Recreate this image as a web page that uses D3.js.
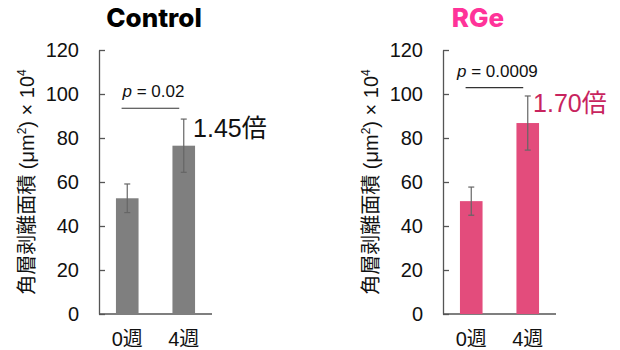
<!DOCTYPE html>
<html>
<head>
<meta charset="utf-8">
<script src="https://cdn.jsdelivr.net/npm/d3@7"></script>
<style>
  html, body { margin: 0; padding: 0; background: #fff; }
  svg { display: block; }
  text { font-family: "Liberation Sans", Arial, "Noto Sans CJK JP", sans-serif; }
</style>
</head>
<body>
<svg id="chart" width="620" height="350"></svg>
<script>
// ---- data ----
const categories = ["0週", "4週"];
const panels = ["Control", "RGe"];
const controlValues = [52.6, 76.5];
const controlErrors = [6.5, 12.1];
const rgeValues = [51.3, 86.8];
const rgeErrors = [6.4, 12.3];
const pLabels = ["0.02", "0.0009"];
const pLineLevels = [93.5, 102.9];
const foldLabels = ["1.45倍", "1.70倍"];
const foldLevels = [80.5, 91.8];
const yTicks = [0, 20, 40, 60, 80, 100, 120];

// ---- styles ----
const barColors = ["#7f7f7f", "#e34c7c"];
const titleColors = ["#000000", "#ff3399"];
const foldColors = ["#111111", "#c8245e"];
const axisColor = "#555";

const svg = d3.select("#chart");
const y = d3.scaleLinear().domain([0, 120]).range([314, 50]);
const axisX = [99, 443];
const titleX = [154, 478];
const foldDx = [-2, -6];
const plotW = 113;

const seriesVals = [controlValues, rgeValues];
const seriesErr = [controlErrors, rgeErrors];

panels.forEach((name, i) => {
  const g = svg.append("g").attr("transform", `translate(${axisX[i]},0)`);
  const x = d3.scaleBand().domain(categories).range([0, plotW])
    .paddingInner(0.6).paddingOuter(0.3);

  // title
  svg.append("text")
    .attr("x", titleX[i]).attr("y", 27)
    .attr("text-anchor", "middle")
    .style("font-family", "Inter, 'Open Sans', sans-serif")
    .style("font-weight", 800)
    .style("font-size", "26px")
    .attr("fill", titleColors[i])
    .text(name);

  // y axis
  const yAxis = d3.axisLeft(y).tickValues(yTicks).tickSize(-6).tickSizeOuter(0).tickPadding(20);
  const ya = g.append("g").call(yAxis);
  ya.select(".domain").attr("stroke", axisColor).attr("stroke-width", 1.3);
  ya.selectAll(".tick line").attr("stroke", axisColor).attr("stroke-width", 1.3);
  ya.selectAll(".tick text")
    .style("font-family", "'Liberation Sans', Arial, sans-serif")
    .style("font-size", "20px").attr("fill", "#111");

  // x axis baseline
  g.append("line")
    .attr("x1", 0).attr("x2", plotW)
    .attr("y1", y(0)).attr("y2", y(0))
    .attr("stroke", axisColor).attr("stroke-width", 1.3);

  // bars
  const vals = seriesVals[i], errs = seriesErr[i];
  g.selectAll("rect.bar").data(categories).enter().append("rect")
    .attr("class", "bar")
    .attr("x", d => x(d))
    .attr("width", x.bandwidth())
    .attr("y", (d, j) => y(vals[j]))
    .attr("height", (d, j) => y(0) - y(vals[j]))
    .attr("fill", barColors[i]);

  // error bars
  categories.forEach((c, j) => {
    const cx = x(c) + x.bandwidth() / 2;
    const eg = g.append("g").attr("stroke", "#666").attr("stroke-width", 1.2);
    eg.append("line").attr("x1", cx).attr("x2", cx)
      .attr("y1", y(vals[j] + errs[j])).attr("y2", y(vals[j] - errs[j]));
    [vals[j] + errs[j], vals[j] - errs[j]].forEach(v => {
      eg.append("line").attr("x1", cx - 3).attr("x2", cx + 3)
        .attr("y1", y(v)).attr("y2", y(v));
    });
  });

  // category labels
  g.selectAll("text.cat").data(categories).enter().append("text")
    .attr("class", "cat")
    .attr("x", d => x(d) + x.bandwidth() / 2)
    .attr("y", 346)
    .attr("text-anchor", "middle")
    .style("font-size", "20px")
    .attr("fill", "#111")
    .text(d => d);

  // p-value line
  const lx1 = x(categories[0]) + x.bandwidth() * 0.25;
  const lx2 = x(categories[1]) + x.bandwidth() * 0.3;
  g.append("line")
    .attr("x1", lx1).attr("x2", lx2)
    .attr("y1", y(pLineLevels[i])).attr("y2", y(pLineLevels[i]))
    .attr("stroke", "#333").attr("stroke-width", 1.1);
  const pt = g.append("text")
    .attr("x", (lx1 + lx2) / 2 + 3)
    .attr("y", y(pLineLevels[i]) - 11)
    .attr("text-anchor", "middle")
    .style("font-size", "17px")
    .attr("fill", "#111");
  pt.append("tspan").style("font-style", "italic").text("p");
  pt.append("tspan").text(" = " + pLabels[i]);

  // fold label
  const bx = x(categories[1]) + x.bandwidth();
  g.append("text")
    .attr("x", bx + foldDx[i])
    .attr("y", y(foldLevels[i]))
    .style("font-size", "25px")
    .attr("fill", foldColors[i])
    .text(foldLabels[i]);

  // y label
  const yl = svg.append("text")
    .attr("transform", `translate(${axisX[i] - 65},182) rotate(-90)`)
    .attr("text-anchor", "middle")
    .style("font-size", "20px")
    .attr("fill", "#111");
  yl.append("tspan").style("font-family", "'Noto Sans CJK JP', sans-serif").text("角層剥離面積");
  yl.append("tspan").text(" (μm");
  yl.append("tspan").attr("dy", -8).style("font-size", "12px").text("2");
  yl.append("tspan").attr("dy", 8).text(") × 10");
  yl.append("tspan").attr("dy", -8).style("font-size", "12px").text("4");
});
</script>
</body>
</html>
